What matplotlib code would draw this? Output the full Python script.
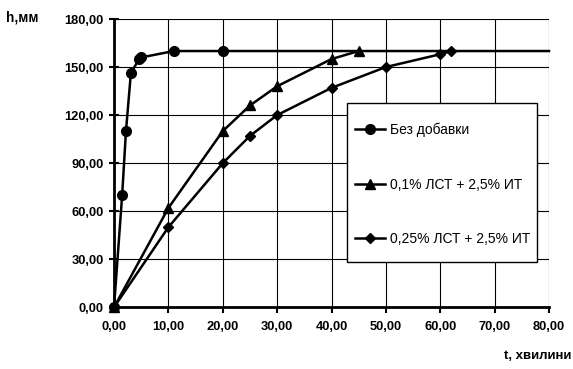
import matplotlib
matplotlib.use("Agg")
import matplotlib.pyplot as plt
from matplotlib.patches import Rectangle

plt.rcParams['font.family'] = ['Liberation Sans', 'DejaVu Sans']

# Data
x_base = [0, 1.5, 2.2, 3.1, 4.6, 5.0, 11, 20, 80]
y_base = [0, 70, 110, 146, 155, 156, 160, 160, 160]
x_01 = [0, 10, 20, 25, 30, 40, 45]
y_01 = [0, 62, 110, 126, 138, 155, 160]
x_025 = [0, 10, 20, 25, 30, 40, 50, 60, 62]
y_025 = [0, 50, 90, 107, 120, 137, 150, 158, 160]
labels = ["Без добавки", "0,1% ЛСТ + 2,5% ИТ", "0,25% ЛСТ + 2,5% ИТ"]
x_ticks = [0, 10, 20, 30, 40, 50, 60, 70, 80]
y_ticks = [0, 30, 60, 90, 120, 150, 180]

fig = plt.figure(figsize=(5.73, 3.69), dpi=100)
ax = fig.add_axes([114/573, 1-307.3/369, (549-114)/573, (307.3-19)/369])

ax.plot(x_base, y_base, color='black', lw=1.8, marker='o', ms=7,
        markevery=list(range(len(x_base)-1)), label=labels[0], zorder=3, clip_on=False)
ax.plot(x_01, y_01, color='black', lw=1.8, marker='^', ms=7, label=labels[1], zorder=3, clip_on=False)
ax.plot(x_025, y_025, color='black', lw=1.8, marker='D', ms=5.3, label=labels[2], zorder=3, clip_on=False)

ax.set_xlim(0, 80)
ax.set_ylim(0, 180)
ax.set_xticks(x_ticks)
ax.set_yticks(y_ticks)
ax.set_xticklabels([f"{v:.2f}".replace('.', ',') for v in x_ticks], fontsize=9.3, fontweight='bold')
ax.set_yticklabels([f"{v:.2f}".replace('.', ',') for v in y_ticks], fontsize=9.3, fontweight='bold')
ax.grid(True, color='black', lw=0.8)
ax.set_axisbelow(True)
for s in ['top', 'right']:
    ax.spines[s].set_visible(False)
for s in ['left', 'bottom']:
    ax.spines[s].set_linewidth(2)
ax.tick_params(axis='y', direction='inout', length=7, width=1.5, pad=4)
ax.tick_params(axis='x', direction='out', length=4, width=1.5, pad=6)

# legend box
rect = Rectangle((0.535, 0.156), 0.437, 0.552, transform=ax.transAxes,
                 facecolor='white', edgecolor='black', lw=1, zorder=4)
ax.add_patch(rect)
leg = ax.legend(loc='upper left', bbox_to_anchor=(0.535+0.018, 0.708-0.068),
                frameon=False, fontsize=10, labelspacing=2.9, handlelength=2.2,
                handletextpad=0.35, borderpad=0, borderaxespad=0)
leg.set_zorder(5)

fig.text(6/573, 1-18/369, "h,мм", fontsize=9.8, fontweight='bold', ha='left', va='center')
fig.text(571/573, 1-356/369, "t, хвилини", fontsize=9.5, fontweight='bold', ha='right', va='center')

fig.savefig("out.png", dpi=100)
